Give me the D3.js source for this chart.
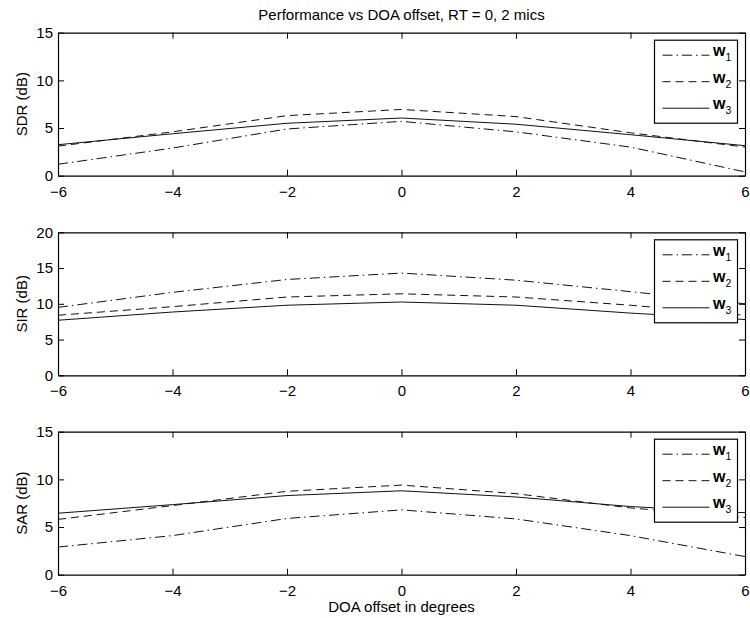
<!DOCTYPE html>
<html>
<head>
<meta charset="utf-8">
<script src="https://cdn.jsdelivr.net/npm/d3@7"></script>
<style>
  body { margin: 0; background: #fff; }
  text { font-family: "Liberation Sans", Arial, Helvetica, sans-serif; fill: #000; }
</style>
</head>
<body>
<div id="chart"></div>
<script>
// Data
const doa = [-6, -4, -2, 0, 2, 4, 6];
const xTicks = [-6, -4, -2, 0, 2, 4, 6];

const sdrW1 = [1.2, 2.9, 4.9, 5.7, 4.6, 3.0, 0.4];
const sdrW2 = [3.1, 4.6, 6.3, 6.95, 6.2, 4.5, 3.0];
const sdrW3 = [3.25, 4.4, 5.5, 6.05, 5.4, 4.3, 3.15];

const sirW1 = [9.5, 11.6, 13.4, 14.3, 13.3, 11.7, 10.0];
const sirW2 = [8.4, 9.6, 10.95, 11.4, 10.95, 9.8, 8.4];
const sirW3 = [7.7, 8.85, 9.8, 10.25, 9.8, 8.7, 7.8];

const sarW1 = [2.9, 4.1, 5.9, 6.8, 5.85, 4.1, 1.9];
const sarW2 = [5.8, 7.25, 8.75, 9.4, 8.5, 7.0, 6.0];
const sarW3 = [6.45, 7.35, 8.3, 8.8, 8.15, 7.15, 6.5];

const sdrTicks = [0, 5, 10, 15];
const sirTicks = [0, 5, 10, 15, 20];
const sarTicks = [0, 5, 10, 15];

const seriesNames = ["1", "2", "3"];
const dashes = ["10,4,1.5,4", "8,5", null];

const chartWidth = 750;
const chartHeight = 618;
const left = 58, right = 745, panelH = 143;

const panels = [
  {label: "SDR (dB)", top: 32.7, ticks: sdrTicks, series: [sdrW1, sdrW2, sdrW3]},
  {label: "SIR (dB)", top: 232.3, ticks: sirTicks, series: [sirW1, sirW2, sirW3]},
  {label: "SAR (dB)", top: 431.7, ticks: sarTicks, series: [sarW1, sarW2, sarW3]}
];

const svg = d3.select("#chart")
    .append("svg")
    .attr("width", chartWidth)
    .attr("height", chartHeight);

const xScale = d3.scaleLinear()
    .domain([-6, 6])
    .range([left, right]);

const fmt = d => (d < 0 ? "\u2212" + Math.abs(d) : String(d));

panels.forEach(p => {
  const yScale = d3.scaleLinear()
      .domain([0, d3.max(p.ticks)])
      .range([p.top + panelH, p.top]);

  const g = svg.append("g");

  // lines
  const line = d3.line()
      .x((d, i) => xScale(doa[i]))
      .y(d => yScale(d));

  p.series.forEach((s, k) => {
    g.append("path")
        .datum(s)
        .attr("fill", "none")
        .attr("stroke", "#111")
        .attr("stroke-width", 1)
        .attr("stroke-dasharray", dashes[k])
        .attr("d", line);
  });

  // axes, MATLAB style ticks inside on all sides
  const tickLen = -6;
  g.append("g")
      .attr("transform", "translate(0," + (p.top + panelH) + ")")
      .call(d3.axisBottom(xScale).tickValues(xTicks).tickSizeInner(tickLen).tickSizeOuter(0).tickPadding(10.5).tickFormat(fmt));
  g.append("g")
      .attr("transform", "translate(0," + p.top + ")")
      .call(d3.axisTop(xScale).tickValues(xTicks).tickSizeInner(tickLen).tickSizeOuter(0).tickFormat(""));
  g.append("g")
      .attr("transform", "translate(" + left + ",0)")
      .call(d3.axisLeft(yScale).tickValues(p.ticks).tickSizeInner(tickLen).tickSizeOuter(0).tickPadding(5).tickFormat(fmt));
  g.append("g")
      .attr("transform", "translate(" + right + ",0)")
      .call(d3.axisRight(yScale).tickValues(p.ticks).tickSizeInner(tickLen).tickSizeOuter(0).tickFormat(""));

  g.selectAll(".domain").attr("stroke", "#000").attr("stroke-width", 1.2);
  g.selectAll(".tick line").attr("stroke", "#000");
  g.selectAll(".tick text").style("font-size", "15px").attr("fill", "#000");

  g.append("text")
      .attr("transform", "translate(27," + (p.top + panelH / 2) + ") rotate(-90)")
      .attr("text-anchor", "middle")
      .style("font-size", "15px")
      .text(p.label);

  // legend
  const lg = g.append("g").attr("transform", "translate(654.5," + (p.top + 7.5) + ")");
  lg.append("rect")
      .attr("width", 83)
      .attr("height", 83)
      .attr("fill", "#fff")
      .attr("stroke", "#000")
      .attr("stroke-width", 1.2);
  seriesNames.forEach((n, k) => {
    const yy = 15 + k * 26.5;
    lg.append("line")
        .attr("x1", 8).attr("x2", 55)
        .attr("y1", yy).attr("y2", yy)
        .attr("stroke", "#111")
        .attr("stroke-dasharray", dashes[k]);
    const t = lg.append("text")
        .attr("x", 58.5)
        .attr("y", yy + 1)
        .style("font-size", "16px");
    t.append("tspan").style("font-weight", "bold").text("w");
    t.append("tspan").attr("dy", 5).style("font-size", "10.5px").text(n);
  });
});

svg.append("text")
    .attr("x", 401.5)
    .attr("y", 20)
    .attr("text-anchor", "middle")
    .style("font-size", "15px")
    .text("Performance vs DOA offset, RT = 0, 2 mics");

svg.append("text")
    .attr("x", 401.5)
    .attr("y", 611.5)
    .attr("text-anchor", "middle")
    .style("font-size", "15px")
    .text("DOA offset in degrees");
</script>
</body>
</html>
